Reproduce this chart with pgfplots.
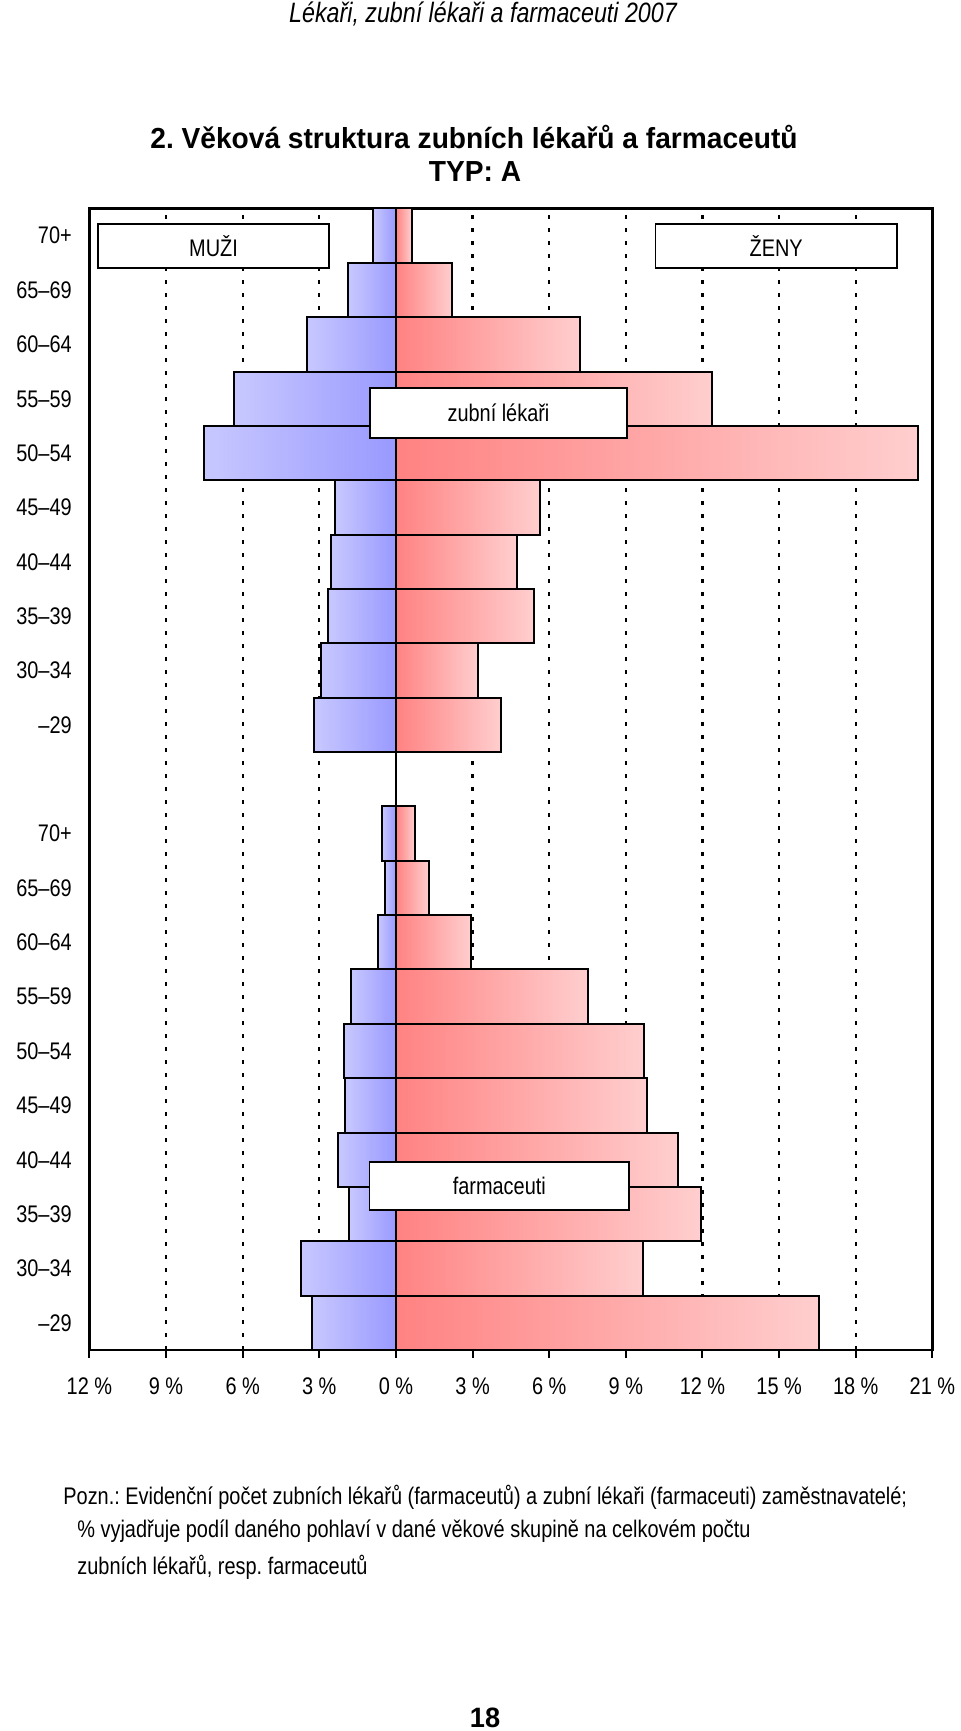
\documentclass[border=0pt]{standalone}
\usepackage{fontspec}
\setmainfont{Liberation Sans}[FakeStretch=0.83]
\newfontfamily\titlefont{Liberation Sans}[FakeStretch=0.97]
\usepackage{pgfplots}
\pgfplotsset{compat=1.18}
\frenchspacing

\definecolor{menL}{RGB}{200,200,255}
\definecolor{menR}{RGB}{153,153,255}
\definecolor{womL}{RGB}{255,130,130}
\definecolor{womR}{RGB}{255,206,206}

\pgfplotsset{
  menbar/.style={xbar, bar width=1, bar shift=0pt, draw=black, line width=1pt,
    left color=menL, right color=menR},
  wombar/.style={xbar, bar width=1, bar shift=0pt, draw=black, line width=1pt,
    left color=womL, right color=womR},
}

\begin{document}
\begin{tikzpicture}[x=0.5pt,y=0.5pt]
\useasboundingbox (0,0) rectangle (960,1731);

\node[font=\fontsize{14}{16}\selectfont\itshape] at (483,1717) {Lékaři, zubní lékaři a farmaceuti 2007};
\node[font=\fontsize{14.5}{17}\selectfont\titlefont\bfseries] at (474,1594) {2. Věková struktura zubních lékařů a farmaceutů};
\node[font=\fontsize{14.5}{17}\selectfont\titlefont\bfseries] at (475,1559) {TYP: A};

\begin{axis}[
  at={(44.7pt,190.5pt)}, anchor=south west,
  scale only axis, width=421.5pt, height=570.75pt,
  xmin=-12, xmax=21, ymin=-0.5, ymax=20.5,
  xtick={-12,-9,-6,-3,0,3,6,9,12,15,18,21},
  xticklabels={12 \%, 9 \%, 6 \%, 3 \%, 0 \%, 3 \%, 6 \%, 9 \%, 12 \%, 15 \%, 18 \%, 21 \%},
  ytick={0,1,2,3,4,5,6,7,8,9,11,12,13,14,15,16,17,18,19,20},
  yticklabels={–29, 30–34, 35–39, 40–44, 45–49, 50–54, 55–59, 60–64, 65–69, 70+,
               –29, 30–34, 35–39, 40–44, 45–49, 50–54, 55–59, 60–64, 65–69, 70+},
  xtick pos=left,
  tick align=outside,
  xtick style={line width=1pt, black},
  major tick length=4pt,
  ytick style={draw=none},
  tick label style={font=\fontsize{12}{14}\selectfont},
  yticklabel style={xshift=-1.3pt},
  xticklabel style={yshift=-6.2pt},
  xmajorgrids,
  grid style={dash pattern=on 2pt off 4.5pt, line width=1.1pt, black},
  axis line style={line width=1.2pt},
]
% farmaceuti (y = 0 ... 9 : -29 ... 70+)
\addplot[menbar] coordinates {(-3.30,0)};
\addplot[menbar] coordinates {(-3.71,1)};
\addplot[menbar] coordinates {(-1.84,2)};
\addplot[menbar] coordinates {(-2.27,3)};
\addplot[menbar] coordinates {(-1.98,4)};
\addplot[menbar] coordinates {(-2.02,5)};
\addplot[menbar] coordinates {(-1.77,6)};
\addplot[menbar] coordinates {(-0.70,7)};
\addplot[menbar] coordinates {(-0.43,8)};
\addplot[menbar] coordinates {(-0.56,9)};
\addplot[wombar] coordinates {(16.58,0)};
\addplot[wombar] coordinates {(9.68,1)};
\addplot[wombar] coordinates {(11.93,2)};
\addplot[wombar] coordinates {(11.03,3)};
\addplot[wombar] coordinates {(9.84,4)};
\addplot[wombar] coordinates {(9.70,5)};
\addplot[wombar] coordinates {(7.52,6)};
\addplot[wombar] coordinates {(2.94,7)};
\addplot[wombar] coordinates {(1.28,8)};
\addplot[wombar] coordinates {(0.74,9)};
% zubni lekari (y = 11 ... 20 : -29 ... 70+)
\addplot[menbar] coordinates {(-3.21,11)};
\addplot[menbar] coordinates {(-2.92,12)};
\addplot[menbar] coordinates {(-2.67,13)};
\addplot[menbar] coordinates {(-2.54,14)};
\addplot[menbar] coordinates {(-2.38,15)};
\addplot[menbar] coordinates {(-7.52,16)};
\addplot[menbar] coordinates {(-6.33,17)};
\addplot[menbar] coordinates {(-3.48,18)};
\addplot[menbar] coordinates {(-1.86,19)};
\addplot[menbar] coordinates {(-0.90,20)};
\addplot[wombar] coordinates {(4.13,11)};
\addplot[wombar] coordinates {(3.23,12)};
\addplot[wombar] coordinates {(5.41,13)};
\addplot[wombar] coordinates {(4.72,14)};
\addplot[wombar] coordinates {(5.64,15)};
\addplot[wombar] coordinates {(20.44,16)};
\addplot[wombar] coordinates {(12.38,17)};
\addplot[wombar] coordinates {(7.21,18)};
\addplot[wombar] coordinates {(2.20,19)};
\addplot[wombar] coordinates {(0.61,20)};
\addplot[black, line width=1pt] coordinates {(0,-0.5) (0,20.5)};
\end{axis}

\tikzset{lbl/.style={draw=black, line width=0.75pt, fill=white, inner sep=0pt,
  font=\fontsize{12}{14}\selectfont}}
\node[lbl, minimum width=115.3pt, minimum height=22pt] at (213.5,1485) {MUŽI};
\node[lbl, minimum width=120.8pt, minimum height=22pt] at (776.2,1485) {ŽENY};
\node[lbl, minimum width=128.5pt, minimum height=25pt] at (498.5,1318) {zubní lékaři};
\node[lbl, minimum width=129.7pt, minimum height=24pt] at (499.3,545) {farmaceuti};

\node[anchor=west, inner sep=0pt, font=\fontsize{12}{15}\selectfont] at (63,234)
  {Pozn.: Evidenční počet zubních lékařů (farmaceutů) a zubní lékaři (farmaceuti) zaměstnavatelé;};
\node[anchor=west, inner sep=0pt, font=\fontsize{12}{15}\selectfont] at (77,200)
  {\% vyjadřuje podíl daného pohlaví v dané věkové skupině na celkovém počtu};
\node[anchor=west, inner sep=0pt, font=\fontsize{12}{15}\selectfont] at (77,164)
  {zubních lékařů, resp. farmaceutů};
\node[font=\fontsize{14}{16}\selectfont\titlefont\bfseries] at (485,13) {18};
\end{tikzpicture}
\end{document}
